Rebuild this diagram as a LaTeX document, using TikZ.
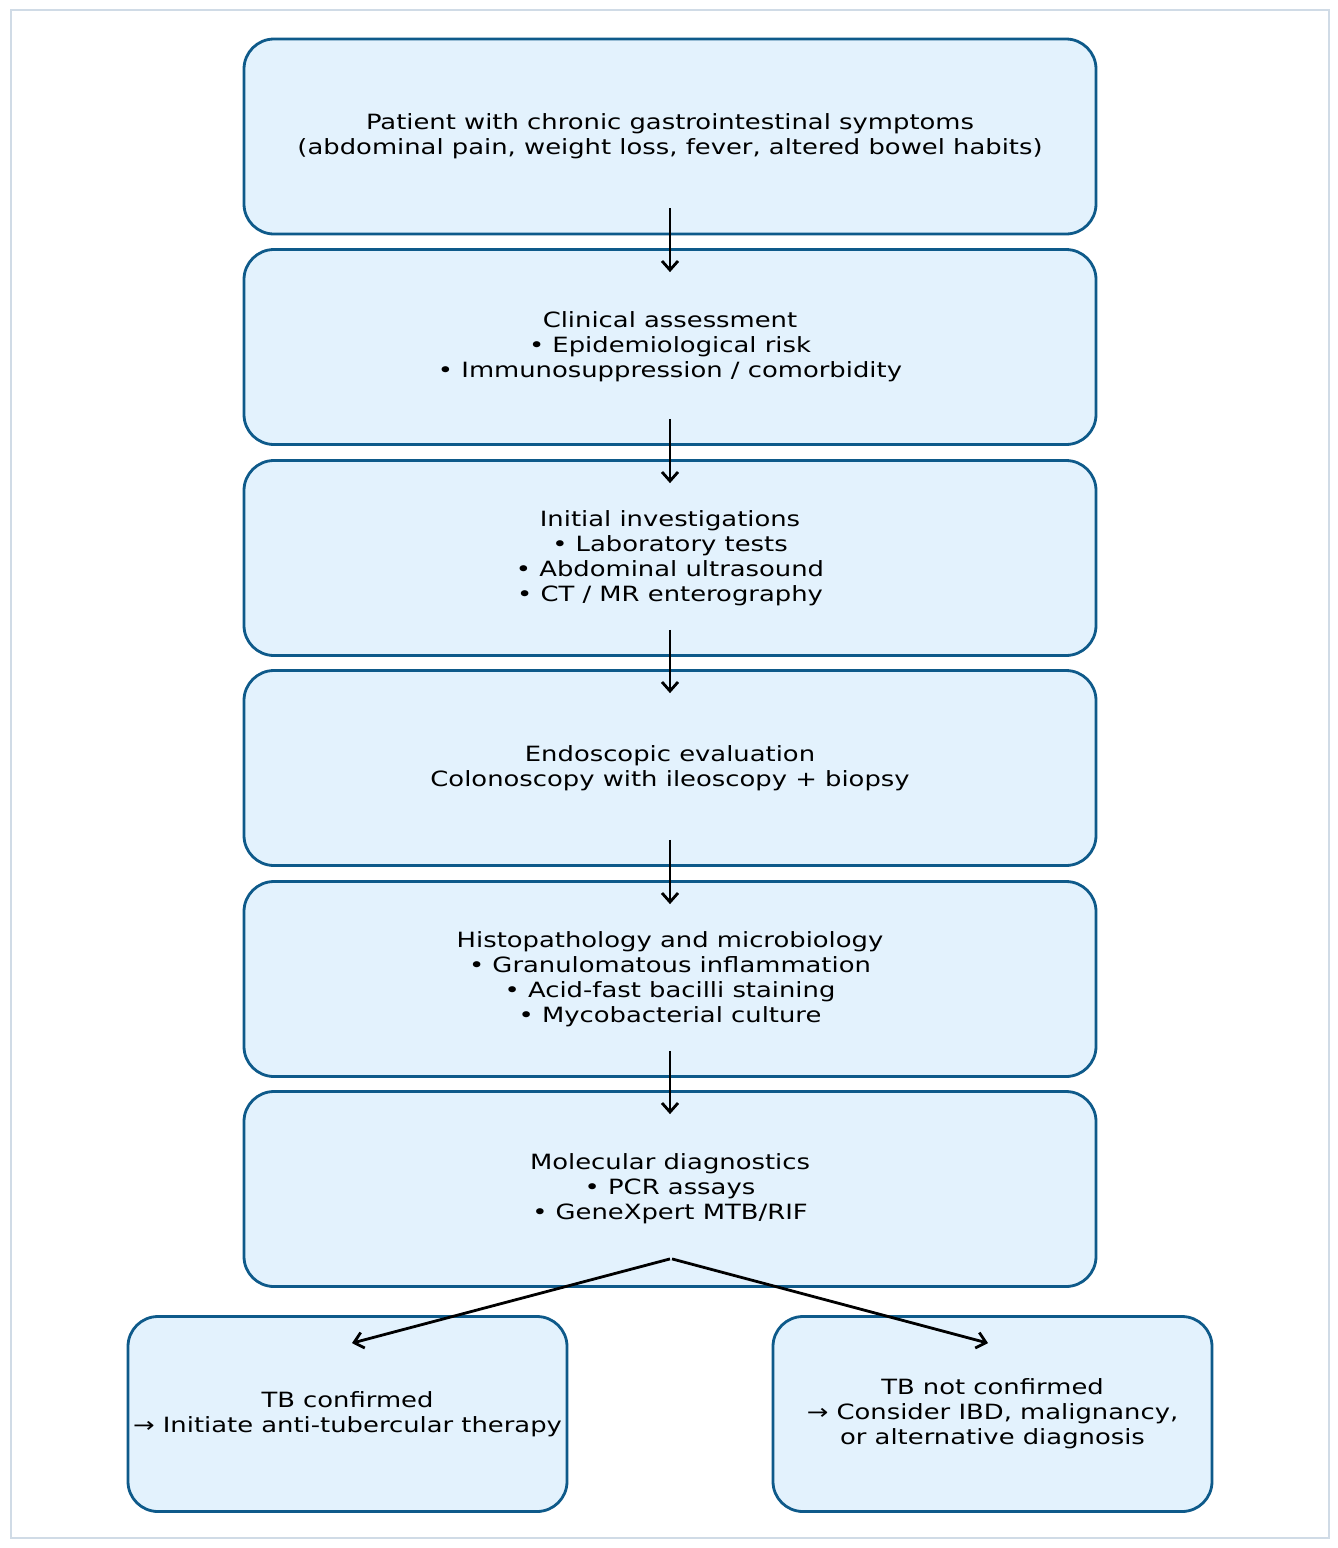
\documentclass[tikz,border=0pt]{standalone}
\usepackage{fontspec}
\setmainfont[FakeStretch=1.23]{DejaVu Sans}
\usetikzlibrary{arrows.meta}
\definecolor{boxfill}{HTML}{E3F2FD}
\definecolor{boxline}{HTML}{0E5A8A}
\definecolor{frameline}{HTML}{D0DBE6}
\tikzset{
  stepbox/.style={draw=boxline, fill=boxfill, line width=1.4pt, rounded corners=15pt,
    minimum width=426pt, minimum height=97.5pt, align=center, inner sep=0pt,
    font=\fontsize{10.5pt}{12.5pt}\selectfont},
  smallbox/.style={stepbox, minimum width=219.5pt},
  arr/.style={-{Straight Barb[length=4.5pt,width=8pt]}, line width=1.4pt, black}
}
\begin{document}
\begin{tikzpicture}[x=0.5pt,y=-0.5pt]
\useasboundingbox (0,0) rectangle (1338,1548);
\fill[white] (0,0) rectangle (1338,1548);
\draw[frameline, line width=1pt] (11,10) rectangle (1329,1538);
\node[stepbox] (b1) at (670,136.5) {Patient with chronic gastrointestinal symptoms\\(abdominal pain, weight loss, fever, altered bowel habits)};
\node[stepbox] (b2) at (670,347) {Clinical assessment\\• Epidemiological risk\\• Immunosuppression / comorbidity};
\node[stepbox] (b3) at (670,558) {Initial investigations\\• Laboratory tests\\• Abdominal ultrasound\\• CT / MR enterography};
\node[stepbox] (b4) at (670,768) {Endoscopic evaluation\\Colonoscopy with ileoscopy + biopsy};
\node[stepbox] (b5) at (670,979) {Histopathology and microbiology\\• Granulomatous inflammation\\• Acid-fast bacilli staining\\• Mycobacterial culture};
\node[stepbox] (b6) at (670,1189) {Molecular diagnostics\\• PCR assays\\• GeneXpert MTB/RIF};
\node[smallbox] (bl) at (347.5,1414) {TB confirmed\\→ Initiate anti-tubercular therapy};
\node[smallbox] (br) at (992.5,1414) {TB not confirmed\\→ Consider IBD, malignancy,\\or alternative diagnosis};
\draw[arr] ([yshift=13.5pt]b1.south) -- ([yshift=-12pt]b2.north);
\draw[arr] ([yshift=13.5pt]b2.south) -- ([yshift=-12pt]b3.north);
\draw[arr] ([yshift=13.5pt]b3.south) -- ([yshift=-12pt]b4.north);
\draw[arr] ([yshift=13.5pt]b4.south) -- ([yshift=-12pt]b5.north);
\draw[arr] ([yshift=13.5pt]b5.south) -- ([yshift=-12pt]b6.north);
\draw[arr] ([yshift=14.5pt]b6.south) -- ([xshift=2.25pt,yshift=-14pt]bl.north);
\draw[arr] ([xshift=1pt,yshift=14.5pt]b6.south) -- ([xshift=-2.25pt,yshift=-14pt]br.north);
\end{tikzpicture}
\end{document}
